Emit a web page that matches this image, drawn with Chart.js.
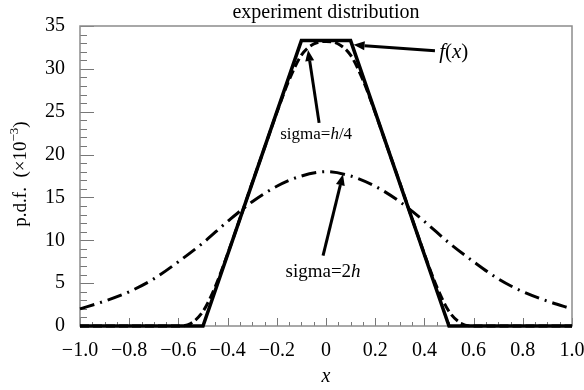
<!DOCTYPE html>
<html>
<head>
<meta charset="utf-8">
<script src="https://cdn.jsdelivr.net/npm/chart.js@4.4.0/dist/chart.umd.min.js"></script>
<style>
  html, body { margin: 0; padding: 0; background: #fff; }
  canvas { display: block; }
</style>
</head>
<body>
<canvas id="chart" width="584" height="390"></canvas>
<script>
// --- data --- //
const fxX = [-1.0, -0.5, -0.1, 0.1, 0.5, 1.0];
const fxY = [0, 0, 33.3, 33.3, 0, 0];

// sigma = h/4
const narrowX = [-1.0, -0.65, -0.6, -0.55, -0.5, -0.45, -0.4, -0.35, -0.3, -0.25, -0.2, -0.15, -0.1, -0.05, 0,
                 0.05, 0.1, 0.15, 0.2, 0.25, 0.3, 0.35, 0.4, 0.45, 0.5, 0.55, 0.6, 0.65, 1.0];
const narrowY = [0, 0, 0, 0.3, 1.7, 4.6, 8.4, 12.5, 16.7, 20.8, 24.9, 28.7, 31.6, 32.9, 33.2,
                 32.9, 31.6, 28.7, 24.9, 20.8, 16.7, 12.5, 8.4, 4.6, 1.7, 0.3, 0, 0, 0];

// sigma = 2h
const wideX = [-1.0, -0.9, -0.8, -0.7, -0.6, -0.5, -0.4, -0.3, -0.2, -0.1, 0,
               0.1, 0.2, 0.3, 0.4, 0.5, 0.6, 0.7, 0.8, 0.9, 1.0];
const wideY = [2.0, 2.9, 4.0, 5.5, 7.5, 9.7, 12.2, 14.5, 16.3, 17.5, 18.0,
               17.5, 16.3, 14.5, 12.2, 9.7, 7.5, 5.5, 4.0, 2.9, 2.0];

// annotations (data units): label text runs [text, italic], anchor, arrow tail -> tip
const noteText = [
    [['f', true], ['(', false], ['x', true], [')', false]],
    [['sigma=', false], ['h', true], ['/4', false]],
    [['sigma=2', false], ['h', true]]
];
const noteSize = [21, 17, 19];
const noteAt = [[0.46, 32.1, 'left'], [-0.04, 22.5, 'center'], [-0.012, 6.5, 'center']];
const arrowFrom = [[0.443, 32.1], [-0.028, 23.7], [-0.012, 8.2]];
const arrowTo = [[0.112, 32.8], [-0.073, 32.2], [0.069, 17.7]];

const SERIF = "'Liberation Serif', 'Times New Roman', serif";

function pts(xs, ys) {
    return xs.map((x, i) => ({ x: x, y: ys[i] }));
}

function drawArrow(ctx, x1, y1, x2, y2) {
    const ang = Math.atan2(y2 - y1, x2 - x1);
    const head = 11, half = 4.5;
    const bx = x2 - head * Math.cos(ang), by = y2 - head * Math.sin(ang);
    ctx.beginPath();
    ctx.moveTo(x1, y1);
    ctx.lineTo(bx, by);
    ctx.lineWidth = 3;
    ctx.strokeStyle = '#000';
    ctx.stroke();
    ctx.beginPath();
    ctx.moveTo(x2, y2);
    ctx.lineTo(bx + half * Math.sin(ang), by - half * Math.cos(ang));
    ctx.lineTo(bx - half * Math.sin(ang), by + half * Math.cos(ang));
    ctx.closePath();
    ctx.fillStyle = '#000';
    ctx.fill();
}

// runs: [text, italic, size, raise]
function drawRuns(ctx, runs, x, y, align) {
    const fontOf = r => (r[1] ? 'italic ' : '') + r[2] + 'px ' + SERIF;
    let total = 0;
    runs.forEach(r => { ctx.font = fontOf(r); total += ctx.measureText(r[0]).width; });
    let cx = align === 'center' ? x - total / 2 : x;
    ctx.textBaseline = 'alphabetic';
    ctx.textAlign = 'left';
    ctx.fillStyle = '#000';
    runs.forEach(r => {
        ctx.font = fontOf(r);
        ctx.fillText(r[0], cx, y - (r[3] || 0));
        cx += ctx.measureText(r[0]).width;
    });
}

// frame + inward ticks + annotations
const framePlugin = {
    id: 'frame',
    beforeDatasetsDraw(chart) {
        const { ctx, chartArea: a, scales } = chart;
        ctx.save();
        ctx.strokeStyle = '#777';
        ctx.lineWidth = 1;
        // y ticks every 1, major every 5
        for (let v = 0; v <= 35; v++) {
            const py = Math.round(scales.y.getPixelForValue(v)) + 0.5;
            const len = v % 5 === 0 ? 14 : 7;
            ctx.beginPath();
            ctx.moveTo(a.left, py);
            ctx.lineTo(a.left + len, py);
            ctx.stroke();
        }
        // x ticks every 0.05, major every 0.2
        for (let i = 0; i <= 40; i++) {
            const v = -1 + i * 0.05;
            const px = Math.round(scales.x.getPixelForValue(v)) + 0.5;
            const len = i % 4 === 0 ? 8 : 4;
            ctx.beginPath();
            ctx.moveTo(px, a.bottom);
            ctx.lineTo(px, a.bottom - len);
            ctx.stroke();
        }
        ctx.strokeStyle = '#8c8c8c';
        ctx.lineWidth = 1.5;
        ctx.strokeRect(a.left, a.top, a.right - a.left, a.bottom - a.top);

        // y axis title, rotated, with a real superscript
        ctx.translate(26, (a.top + a.bottom) / 2 - 2);
        ctx.rotate(-Math.PI / 2);
        drawRuns(ctx, [['p.d.f.  (\u00d710', false, 19], ['\u22123', false, 13, 8], [')', false, 19]], 0, 0, 'center');
        ctx.restore();
    },
    afterDatasetsDraw(chart) {
        const { ctx, scales } = chart;
        ctx.save();
        noteText.forEach((runs, i) => {
            const [fx, fy] = arrowFrom[i];
            const [tx, ty] = arrowTo[i];
            drawArrow(ctx, scales.x.getPixelForValue(fx), scales.y.getPixelForValue(fy),
                scales.x.getPixelForValue(tx), scales.y.getPixelForValue(ty));
            const [nx, ny, al] = noteAt[i];
            const sized = runs.map(r => [r[0], r[1], noteSize[i]]);
            drawRuns(ctx, sized, scales.x.getPixelForValue(nx),
                scales.y.getPixelForValue(ny) + noteSize[i] * 0.33, al);
        });
        ctx.restore();
    }
};

new Chart(document.getElementById('chart').getContext('2d'), {
    type: 'line',
    data: {
        datasets: [
            {
                label: 'sigma=2h',
                data: pts(wideX, wideY),
                borderColor: '#000',
                borderWidth: 3,
                borderDash: [15, 6, 2, 6],
                pointRadius: 0,
                cubicInterpolationMode: 'monotone',
                clip: false
            },
            {
                label: 'sigma=h/4',
                data: pts(narrowX, narrowY),
                borderColor: '#000',
                borderWidth: 3,
                borderDash: [9, 4],
                pointRadius: 0,
                cubicInterpolationMode: 'monotone',
                clip: false
            },
            {
                label: 'f(x)',
                data: pts(fxX, fxY),
                borderColor: '#000',
                borderWidth: 3.5,
                pointRadius: 0,
                tension: 0,
                clip: false
            }
        ]
    },
    options: {
        responsive: false,
        animation: false,
        events: [],
        layout: { padding: { top: 0, right: 12, bottom: 0, left: 0 } },
        plugins: {
            legend: { display: false },
            tooltip: { enabled: false },
            title: {
                display: true,
                text: 'experiment distribution',
                fullSize: false,
                color: '#000',
                font: { family: SERIF, size: 20, weight: 'normal', lineHeight: 1.1 },
                padding: { top: 2, bottom: 2 }
            }
        },
        scales: {
            x: {
                type: 'linear',
                min: -1,
                max: 1,
                grid: { display: false, drawTicks: false },
                border: { display: false },
                ticks: {
                    stepSize: 0.2,
                    padding: 13,
                    maxRotation: 0,
                    color: '#000',
                    font: { family: SERIF, size: 20 },
                    callback: v => Math.abs(v) < 1e-9 ? '0' : (v < 0 ? '\u2212' : '') + Math.abs(v).toFixed(1)
                },
                title: {
                    display: true,
                    text: 'x',
                    color: '#000',
                    font: { family: SERIF, size: 20, style: 'italic' },
                    padding: { top: 0, bottom: 1 }
                },
                afterFit: s => { s.height = 64; s.paddingLeft = 0; s.paddingRight = 0; }
            },
            y: {
                min: 0,
                max: 35,
                grid: { display: false, drawTicks: false },
                border: { display: false },
                ticks: {
                    stepSize: 5,
                    padding: 15,
                    color: '#000',
                    font: { family: SERIF, size: 20 }
                },
                afterFit: s => { s.width = 80; s.paddingTop = 0; s.paddingBottom = 0; }
            }
        }
    },
    plugins: [framePlugin]
});
</script>
</body>
</html>
